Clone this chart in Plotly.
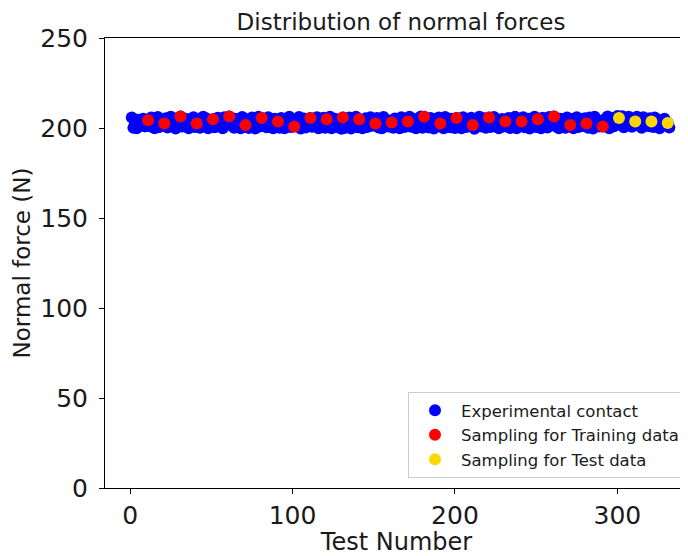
import plotly.graph_objects as go

# Experimental contact: test numbers 1..332 and normal force values (N)
blue_y = [
    205.8, 200.2, 203.1, 199.8, 204.6, 201.3, 202.7, 205.2, 200.9, 203.8,
    204.3, 201.0, 205.9, 202.2, 199.9, 203.5, 206.1, 200.6, 204.0, 202.8,
    202.5, 205.4, 200.3, 203.9, 206.3, 201.5, 204.7, 199.7, 202.9, 205.6,
    206.4, 200.8, 203.3, 201.9, 205.0, 199.8, 204.2, 202.0, 206.0, 200.5,
    202.5, 204.8, 200.1, 203.6, 206.2, 201.2, 205.3, 199.9, 203.0, 204.5,
    204.9, 200.4, 202.6, 205.7, 201.0, 203.8, 199.8, 206.0, 202.1, 204.3,
    206.4, 201.6, 203.2, 200.2, 205.1, 202.4, 204.9, 199.9, 206.1, 201.8,
    201.7, 204.6, 200.0, 203.4, 205.8, 202.0, 199.7, 204.1, 206.3, 200.9,
    205.5, 201.3, 203.7, 200.4, 206.0, 202.6, 204.4, 199.8, 205.2, 201.9,
    203.6, 200.1, 205.6, 202.3, 199.9, 204.8, 201.4, 206.2, 200.6, 203.1,
    200.8, 204.0, 202.2, 206.1, 199.7, 203.5, 205.3, 200.3, 202.8, 204.6,
    205.5, 200.7, 203.9, 201.6, 206.0, 199.8, 204.2, 202.5, 205.7, 200.2,
    204.9, 201.1, 206.3, 199.9, 203.0, 205.1, 200.5, 202.7, 204.4, 199.6,
    205.8, 200.0, 203.3, 201.5, 205.9, 199.7, 204.0, 202.1, 206.2, 200.4,
    204.9, 201.8, 199.9, 203.7, 205.4, 200.6, 202.9, 206.0, 201.2, 204.3,
    202.5, 205.6, 200.3, 203.8, 199.8, 206.1, 201.9, 204.5, 200.8, 203.0,
    203.1, 200.2, 205.3, 201.4, 204.7, 199.9, 206.0, 202.6, 200.5, 204.9,
    203.6, 206.2, 200.7, 202.4, 205.0, 199.8, 204.1, 201.3, 206.4, 200.1,
    206.2, 201.6, 203.9, 200.3, 205.5, 202.2, 199.7, 204.6, 201.0, 205.9,
    202.5, 204.8, 199.9, 206.1, 201.5, 203.4, 200.4, 205.2, 202.8, 200.0,
    205.5, 201.9, 204.3, 199.8, 206.0, 202.3, 200.6, 204.0, 201.2, 205.7,
    201.7, 199.6, 204.5, 202.0, 206.2, 200.9, 203.6, 205.4, 200.2, 203.0,
    205.8, 200.5, 203.2, 206.1, 201.4, 204.7, 199.9, 202.6, 205.0, 200.8,
    203.6, 201.2, 205.6, 200.0, 204.2, 202.9, 206.3, 199.8, 203.5, 201.7,
    203.6, 206.0, 200.4, 202.8, 205.1, 199.7, 204.4, 201.3, 206.2, 200.6,
    204.9, 202.0, 199.9, 205.7, 201.6, 203.9, 200.3, 206.1, 202.4, 204.6,
    206.4, 200.9, 203.3, 199.8, 205.2, 201.8, 204.0, 200.1, 205.9, 202.7,
    201.7, 205.0, 199.9, 203.7, 206.0, 200.5, 202.2, 204.8, 201.1, 205.4,
    202.5, 200.2, 205.8, 203.0, 199.7, 206.2, 201.4, 204.3, 200.8, 203.9,
    200.8, 204.7, 202.1, 206.4, 199.9, 203.5, 205.6, 201.0, 204.1, 206.6,
    205.5, 202.8, 206.5, 200.4, 204.0, 201.9, 206.2, 203.3, 200.7, 205.0,
    203.6, 206.3, 201.5, 204.6, 200.2, 206.0, 202.7, 204.9, 201.1, 205.4,
    203.6, 200.6, 205.8, 202.3, 204.4, 199.9, 203.7, 201.6, 205.2, 202.0,
    202.8, 200.3,
]
blue_x = list(range(1, len(blue_y) + 1))

# Sampling for training data
red_x = [11, 21, 31, 41, 51, 61, 71, 81, 91, 101, 111, 121, 131, 141, 151,
         161, 171, 181, 191, 201, 211, 221, 231, 241, 251, 261, 271, 281, 291]
red_y = [204.3, 202.5, 206.4, 202.5, 204.9, 206.4, 201.7, 205.5, 203.6, 200.8,
         205.5, 204.9, 205.8, 204.9, 202.5, 203.1, 203.6, 206.2, 202.5, 205.5,
         201.7, 205.8, 203.6, 203.6, 204.9, 206.4, 201.7, 202.5, 200.8]

# Sampling for test data
yellow_x = [301, 311, 321, 331]
yellow_y = [205.5, 203.6, 203.6, 202.8]

x_ticks = [0, 100, 200, 300]
y_ticks = [0, 50, 100, 150, 200, 250]

FONT = "DejaVu Sans, sans-serif"
W, H = 680, 548  # page adds an 8px body margin

fig = go.Figure()
fig.add_trace(go.Scatter(x=blue_x, y=blue_y, mode="markers", name="Experimental contact",
                         marker=dict(color="#0000ff", size=12, line=dict(width=0))))
fig.add_trace(go.Scatter(x=red_x, y=red_y, mode="markers", name="Sampling for Training data",
                         marker=dict(color="#ff0000", size=12, line=dict(width=0))))
fig.add_trace(go.Scatter(x=yellow_x, y=yellow_y, mode="markers", name="Sampling for Test data",
                         marker=dict(color="#ffd700", size=12, line=dict(width=0))))

fig.update_layout(
    width=W, height=H,
    margin=dict(l=97, r=0, t=30, b=68, pad=0),
    paper_bgcolor="white", plot_bgcolor="white",
    font=dict(family=FONT, color="#1a1a1a"),
    title=dict(text="Distribution of normal forces", xref="container", x=393 / W,
               xanchor="center", yref="container", y=1 - 14 / H, yanchor="middle",
               font=dict(size=23, family=FONT, color="#1a1a1a")),
    showlegend=True,
    legend=dict(x=(400 - 97) / 583, xanchor="left", y=0.022, yanchor="bottom",
                bgcolor="rgba(255,255,255,0.8)", bordercolor="#cccccc", borderwidth=1,
                font=dict(size=16.5, family=FONT, color="#1a1a1a"),
                itemsizing="constant", itemwidth=42, tracegroupgap=0),
)
fig.update_xaxes(
    range=[-15.5, 343.5], tickvals=x_ticks, ticktext=[str(v) for v in x_ticks],
    showgrid=False, zeroline=False,
    showline=True, linecolor="black", linewidth=1, mirror=True,
    ticks="outside", ticklen=5, tickcolor="black",
    tickfont=dict(size=25, family=FONT, color="#1a1a1a"),
    title=dict(text="Test Number", font=dict(size=24, family=FONT, color="#1a1a1a"), standoff=4),
)
fig.update_yaxes(
    range=[0, 250], tickvals=y_ticks, ticktext=[str(v) for v in y_ticks],
    showgrid=False, zeroline=False,
    showline=True, linecolor="black", linewidth=1, mirror=False,
    ticks="outside", ticklen=5, tickcolor="black",
    tickfont=dict(size=25, family=FONT, color="#1a1a1a"),
    ticklabelstandoff=6,
    title=dict(text="Normal force (N)", font=dict(size=23, family=FONT, color="#1a1a1a"), standoff=3),
)

fig.write_html("out.html")
